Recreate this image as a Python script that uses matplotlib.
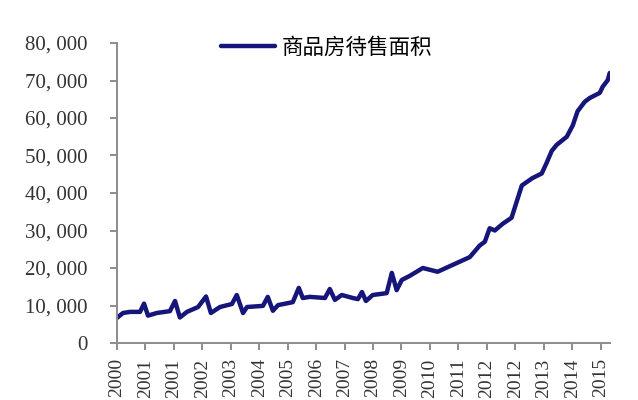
import matplotlib
matplotlib.use("Agg")
import matplotlib.pyplot as plt
from matplotlib.ticker import FuncFormatter

# position along the category axis (one tick every 10 observations) and value
pos = [0, 2.1, 4.6, 8.1, 9.5, 10.9, 14.0, 18.6, 20.4, 22.1,
       24.6, 28.5, 31.3, 33.0, 36.2, 40.4, 42.1, 44.3, 45.7, 51.3,
       53.0, 54.8, 56.6, 61.8, 63.9, 65.3, 67.8, 73.1, 74.8, 76.6,
       79.0, 82.9, 84.7, 86.1, 87.5, 89.9, 94.8, 96.6, 98.3, 100.1,
       102.9, 107.5, 112.7, 124.0, 127.5, 129.3, 131.0, 132.8, 135.6, 138.7,
       142.3, 144.0, 146.1, 149.3, 151.0, 152.8, 154.5, 158.1, 160.2, 161.9,
       164.4, 166.1, 169.7, 170.7, 172.5, 173.2]
area = [6700, 8000, 8300, 8300, 10500, 7300, 8000, 8500, 11200, 6800,
        8300, 9600, 12400, 8000, 9600, 10400, 12800, 8000, 9600, 9900,
        12300, 8600, 10100, 10900, 14700, 12000, 12300, 12000, 14400, 11500,
        12800, 12000, 11700, 13600, 11200, 12800, 13300, 18700, 14100, 16800,
        17900, 20000, 19000, 22900, 26000, 27000, 30600, 30000, 31800, 33400,
        42000, 42900, 44000, 45200, 48000, 51200, 52800, 55000, 58000, 61800,
        64300, 65300, 66700, 68300, 70100, 72000]

tick_pos = list(range(0, 171, 10))
tick_labels = ["2000", "2001", "2001", "2002", "2003", "2004", "2005", "2006",
               "2007", "2008", "2009", "2010", "2011", "2012", "2012", "2013",
               "2014", "2015"]
series_name = "商品房待售面积"

line_color = "#15157a"
axis_color = "#8c8c8c"
num_font = ["Liberation Serif", "Noto Sans CJK SC"]

fig = plt.figure(figsize=(6.38, 4.0), dpi=100)
ax = fig.add_axes([117 / 638, 1 - 343 / 400, (610 - 117) / 638, 300 / 400])

ax.plot(pos, area, color=line_color, lw=3.2, solid_joinstyle="round",
        solid_capstyle="round", label=series_name)

ax.set_xlim(0, 173.3)
ax.set_ylim(0, 80000)
ax.set_yticks(range(0, 80001, 10000))
ax.yaxis.set_major_formatter(
    FuncFormatter(lambda v, p: f"{v:,.0f}".replace(",", ", ")))
ax.set_xticks(tick_pos)
ax.set_xticklabels(tick_labels, rotation=90)

for s in ["top", "right"]:
    ax.spines[s].set_visible(False)
for s in ["left", "bottom"]:
    ax.spines[s].set_color(axis_color)
    ax.spines[s].set_linewidth(1.4)

ax.tick_params(axis="y", direction="out", length=5, width=1.4,
               color=axis_color, pad=16, labelsize=15, labelcolor="#333333")
ax.tick_params(axis="x", direction="out", length=5, width=1.4,
               color=axis_color, pad=6, labelsize=14, labelcolor="#333333")
for lab in ax.get_xticklabels() + ax.get_yticklabels():
    lab.set_family(num_font)

ax.legend(loc="center left", bbox_to_anchor=(221 / 638, 1 - 48 / 400),
          bbox_transform=fig.transFigure, frameon=False, borderpad=0,
          borderaxespad=0, handlelength=2.5, handletextpad=0.3,
          prop={"family": ["Noto Sans CJK SC", "DejaVu Sans"], "size": 15.5})

fig.savefig("out.png", dpi=100)
